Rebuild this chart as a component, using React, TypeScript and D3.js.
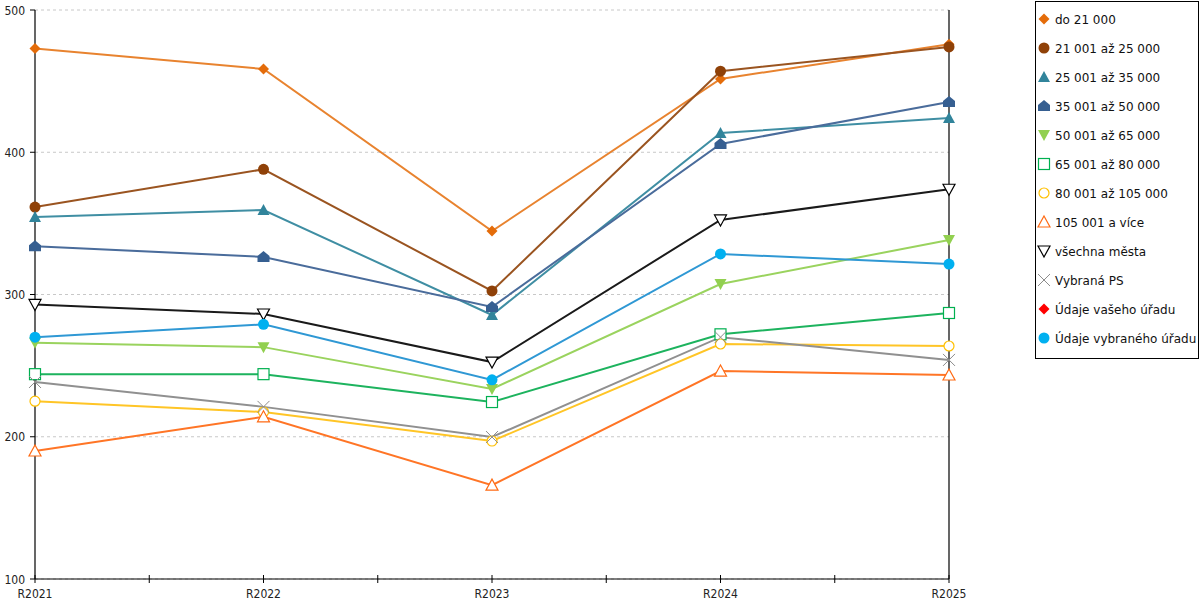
import * as d3 from "d3";

const years = ["R2021", "R2022", "R2023", "R2024", "R2025"];
const yTicks = [100, 200, 300, 400, 500];

const names = [
  "do 21 000",
  "21 001 až 25 000",
  "25 001 až 35 000",
  "35 001 až 50 000",
  "50 001 až 65 000",
  "65 001 až 80 000",
  "80 001 až 105 000",
  "105 001 a více",
  "všechna města",
  "Vybraná PS",
  "Údaje vašeho úřadu",
  "Údaje vybraného úřadu",
];

const do21 = [473, 458.5, 344.6, 451.5, 476];
const s21to25 = [361.5, 388, 302.5, 457, 474];
const s25to35 = [354.5, 359.4, 285.6, 413.5, 424];
const s35to50 = [334, 326.4, 291.2, 405.8, 435.3];
const s50to65 = [266, 263, 233.6, 307.4, 338.3];
const s65to80 = [244, 244, 224.4, 272, 287];
const s80to105 = [225, 217.4, 197, 265.2, 263.8];
const s105plus = [190, 214, 166, 246.2, 243.4];
const vsechna = [293, 286.3, 252.5, 352.4, 374];
const vybranaPS = [238.5, 221, 199.8, 270, 254];
const vasUrad: number[] = [];
const vybranyUrad = [270, 279, 240, 328.5, 321.4];

const values = [do21, s21to25, s25to35, s35to50, s50to65, s65to80, s80to105, s105plus, vsechna, vybranaPS, vasUrad, vybranyUrad];
const colors = ["#e46c0a", "#8f4108", "#31849b", "#365f91", "#92d050", "#00b050", "#ffc000", "#ff6a13", "#000000", "#8c8c8c", "#ff0000", "#00b0f0"];
const lineColors = ["#e8832f", "#9a5420", "#3f8ea3", "#4a6c9b", "#9ad35e", "#1db35e", "#ffc526", "#ff7526", "#1a1a1a", "#909090", "#ff0000", "#2f98d4"];
const shapes = ["diamond", "circle", "triangle", "pentagon", "triDown", "square", "circleO", "triangleO", "triDownO", "cross", "diamond", "circle"];

const FONT = "DejaVu Sans, Verdana, sans-serif";
const AXIS_FONT = "DejaVu Sans Condensed, DejaVu Sans, sans-serif";

function Marker({ shape, x, y, color }: { shape: string; x: number; y: number; color: string }) {
  const r = 5.5;
  switch (shape) {
    case "diamond":
      return <path d={`M${x},${y - r}L${x + r},${y}L${x},${y + r}L${x - r},${y}Z`} fill={color} />;
    case "circle":
      return <circle cx={x} cy={y} r={5.5} fill={color} />;
    case "triangle":
      return <path d={`M${x},${y - 6}L${x + 6},${y + 5}L${x - 6},${y + 5}Z`} fill={color} />;
    case "pentagon":
      return <path d={`M${x},${y - 6}L${x + 6},${y - 1}L${x + 6},${y + 5}L${x - 6},${y + 5}L${x - 6},${y - 1}Z`} fill={color} />;
    case "triDown":
      return <path d={`M${x - 6},${y - 5}L${x + 6},${y - 5}L${x},${y + 6}Z`} fill={color} />;
    case "square":
      return <rect x={x - 5.5} y={y - 5.5} width={11} height={11} fill="#fff" stroke={color} strokeWidth={1.2} />;
    case "circleO":
      return <circle cx={x} cy={y} r={5} fill="#fff" stroke={color} strokeWidth={1.2} />;
    case "triangleO":
      return <path d={`M${x},${y - 6}L${x + 6},${y + 5}L${x - 6},${y + 5}Z`} fill="#fff" stroke={color} strokeWidth={1.2} />;
    case "triDownO":
      return <path d={`M${x - 6},${y - 5}L${x + 6},${y - 5}L${x},${y + 6}Z`} fill="#fff" stroke={color} strokeWidth={1.2} />;
    case "cross":
      return <path d={`M${x - 6},${y - 6}L${x + 6},${y + 6}M${x + 6},${y - 6}L${x - 6},${y + 6}`} stroke={color} strokeWidth={1} fill="none" />;
    default:
      return null;
  }
}

export default function App() {
  const W = 1200;
  const H = 600;
  const x = d3.scalePoint<string>().domain(years).range([35, 949]);
  const y = d3.scaleLinear().domain([100, 500]).range([579, 10]);
  const line = d3
    .line<number>()
    .x((_, i) => x(years[i]) as number)
    .y((d) => y(d));
  const step = x.step();

  return (
    <svg
      width={W}
      height={H}
      style={{ position: "absolute", left: 0, top: 0, background: "#fff" }}
      fontFamily={FONT}
    >
      {/* gridlines */}
      {yTicks.map((t) => (
        <line key={t} x1={35} x2={949} y1={y(t)} y2={y(t)} stroke="#c8c8c8" strokeDasharray="3,3" strokeWidth={1} />
      ))}

      {/* axes */}
      <line x1={35} x2={35} y1={y(500)} y2={y(100)} stroke="#000" strokeWidth={1.2} />
      <line x1={949} x2={949} y1={y(500)} y2={y(100)} stroke="#000" strokeWidth={1.2} />
      <line x1={35} x2={949} y1={y(100)} y2={y(100)} stroke="#000" strokeWidth={1.2} />
      {yTicks.map((t) => (
        <g key={t}>
          <line x1={30} x2={35} y1={y(t)} y2={y(t)} stroke="#000" />
          <text x={25} y={y(t) + 4.5} textAnchor="end" fontSize={12} fontFamily={AXIS_FONT} fill="#222">
            {t}
          </text>
        </g>
      ))}
      {years.map((yr, i) => (
        <g key={yr}>
          <line x1={x(yr)} x2={x(yr)} y1={y(100) - 4} y2={y(100) + 4} stroke="#000" />
          {i < years.length - 1 && (
            <line
              x1={(x(yr) as number) + step / 2}
              x2={(x(yr) as number) + step / 2}
              y1={y(100) - 4}
              y2={y(100) + 4}
              stroke="#000"
            />
          )}
          <text x={x(yr)} y={598} textAnchor="middle" fontSize={12} fontFamily={AXIS_FONT} fill="#222">
            {yr}
          </text>
        </g>
      ))}

      {/* lines */}
      {values.map((vals, si) =>
        vals.length ? (
          <path key={si} d={line(vals) || ""} fill="none" stroke={lineColors[si]} strokeWidth={2} />
        ) : null,
      )}
      {/* markers */}
      {values.map((vals, si) =>
        vals.map((v, i) => <Marker key={`${si}-${i}`} shape={shapes[si]} x={x(years[i]) as number} y={y(v)} color={colors[si]} />),
      )}

      {/* legend */}
      <rect x={1035.5} y={1.5} width={163} height={357} fill="#fff" stroke="#000" strokeWidth={1} />
      {names.map((n, i) => {
        const ly = 19 + i * 29;
        return (
          <g key={n}>
            <Marker shape={shapes[i]} x={1044} y={ly} color={colors[i]} />
            <text x={1055} y={ly + 4.5} fontSize={12} fill="#111">
              {n}
            </text>
          </g>
        );
      })}
    </svg>
  );
}
